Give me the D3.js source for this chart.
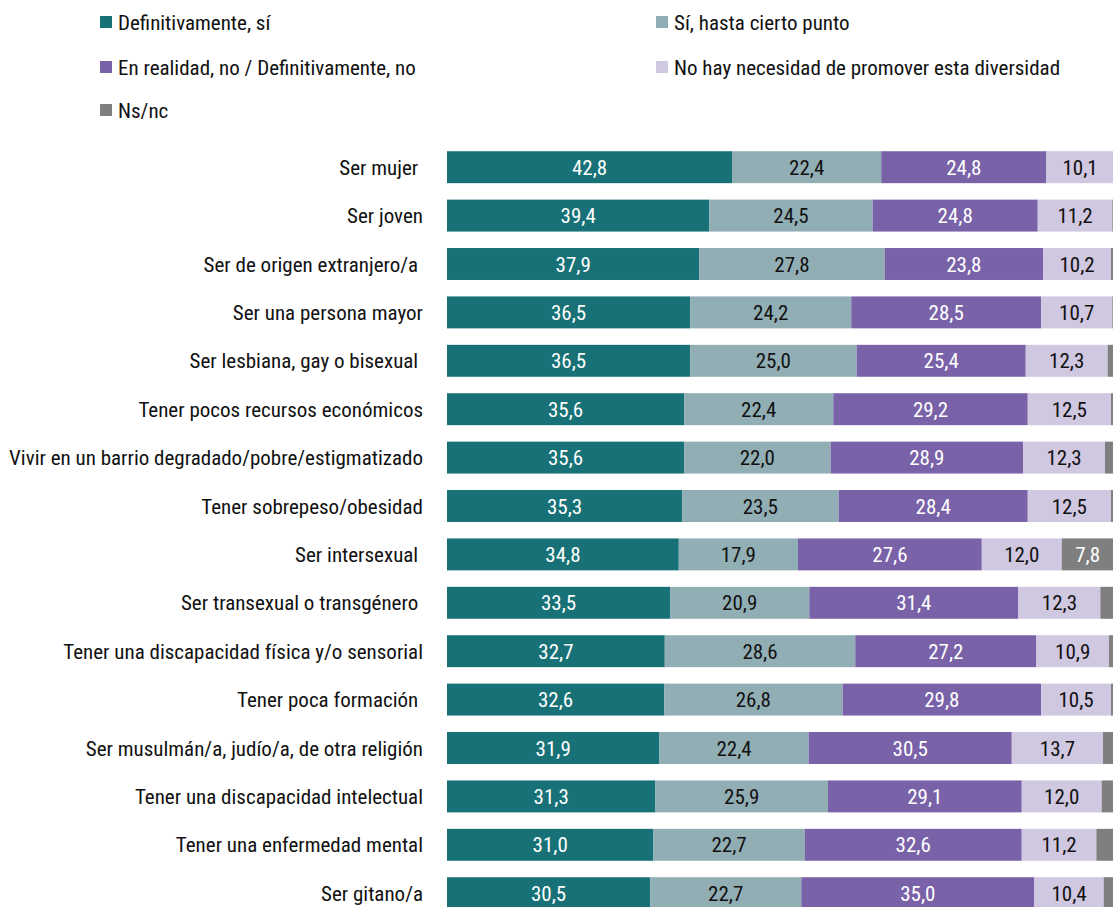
<!DOCTYPE html>
<html>
<head>
<meta charset="utf-8">
<title>Diversidad</title>
<script src="https://cdn.jsdelivr.net/npm/d3@7"></script>
<style>
  body { margin: 0; background: #fff; }
  svg text { font-family: "Liberation Sans Narrow", "Arial Narrow", "Roboto Condensed", sans-serif; white-space: pre; }
</style>
</head>
<body>
<div id="chart"></div>
<script>
// categories (top to bottom)
var categories = [
  "Ser mujer ",
  "Ser joven",
  "Ser de origen extranjero/a ",
  "Ser una persona mayor",
  "Ser lesbiana, gay o bisexual ",
  "Tener pocos recursos económicos",
  "Vivir en un barrio degradado/pobre/estigmatizado",
  "Tener sobrepeso/obesidad",
  "Ser intersexual ",
  "Ser transexual o transgénero ",
  "Tener una discapacidad física y/o sensorial",
  "Tener poca formación ",
  "Ser musulmán/a, judío/a, de otra religión",
  "Tener una discapacidad intelectual",
  "Tener una enfermedad mental",
  "Ser gitano/a"
];

var seriesNames = [
  "Definitivamente, sí",
  "Sí, hasta cierto punto",
  "En realidad, no / Definitivamente, no",
  "No hay necesidad de promover esta diversidad",
  "Ns/nc"
];

var defSi    = [42.8, 39.4, 37.9, 36.5, 36.5, 35.6, 35.6, 35.3, 34.8, 33.5, 32.7, 32.6, 31.9, 31.3, 31.0, 30.5];
var hastaSi  = [22.4, 24.5, 27.8, 24.2, 25.0, 22.4, 22.0, 23.5, 17.9, 20.9, 28.6, 26.8, 22.4, 25.9, 22.7, 22.7];
var realNo   = [24.8, 24.8, 23.8, 28.5, 25.4, 29.2, 28.9, 28.4, 27.6, 31.4, 27.2, 29.8, 30.5, 29.1, 32.6, 35.0];
var noNecesi = [10.1, 11.2, 10.2, 10.7, 12.3, 12.5, 12.3, 12.5, 12.0, 12.3, 10.9, 10.5, 13.7, 12.0, 11.2, 10.4];
var nsnc     = [0.0, 0.1, 0.3, 0.1, 0.8, 0.3, 1.2, 0.3, 7.8, 1.9, 0.6, 0.3, 1.5, 1.7, 2.5, 1.4];

var colors = ["#177176", "#91aeb5", "#7a62a8", "#d0c7e1", "#7f7f7f"];
var textColors = ["#fff", "#111", "#fff", "#111", "#fff"];

var W = 1113, H = 907;
var svg = d3.select("#chart").append("svg")
  .attr("width", W).attr("height", H);

var keys = ["k0", "k1", "k2", "k3", "k4"];
var allSeries = [defSi, hastaSi, realNo, noNecesi, nsnc];
var table = categories.map(function(c, i) {
  var row = { cat: c };
  keys.forEach(function(k, j) { row[k] = allSeries[j][i]; });
  return row;
});

var x = d3.scaleLinear().domain([0, 100]).range([447, 1113]);
var y = d3.scaleBand().domain(categories).range([143, 143 + 16 * 48.4]).paddingInner(0.34).paddingOuter(0.17);

var stacked = d3.stack().keys(keys)(table);

var groups = svg.selectAll("g.serie")
  .data(stacked).enter().append("g")
  .attr("class", "serie")
  .attr("fill", function(d, i) { return colors[i]; });

groups.selectAll("rect")
  .data(function(d) { return d; })
  .enter().append("rect")
  .attr("x", function(d) { return x(d[0]); })
  .attr("y", function(d) { return y(d.data.cat); })
  .attr("width", function(d) { return Math.max(0, x(d[1]) - x(d[0])); })
  .attr("height", y.bandwidth());

stacked.forEach(function(s, i) {
  svg.append("g").selectAll("text")
    .data(s.filter(function(d) { return d[1] - d[0] >= 5; }))
    .enter().append("text")
    .attr("x", function(d) { return (x(d[0]) + x(d[1])) / 2; })
    .attr("y", function(d) { return y(d.data.cat) + y.bandwidth() / 2; })
    .attr("dy", "0.36em")
    .attr("text-anchor", "middle")
    .attr("font-size", 21)
    .attr("fill", textColors[i])
    .text(function(d) { return (d[1] - d[0]).toFixed(1).replace(".", ","); });
});

// category labels
svg.append("g").selectAll("text")
  .data(categories).enter().append("text")
  .attr("x", 423)
  .attr("y", function(d) { return y(d) + y.bandwidth() / 2; })
  .attr("dy", "0.36em")
  .attr("text-anchor", "end")
  .attr("font-size", 21)
  .attr("fill", "#111")
  .text(function(d) { return d; });

// legend
var legendPos = [[100, 22], [656, 22], [100, 67], [656, 67], [100, 110]];
var leg = svg.append("g").selectAll("g")
  .data(seriesNames).enter().append("g")
  .attr("transform", function(d, i) { return "translate(" + legendPos[i][0] + "," + legendPos[i][1] + ")"; });
leg.append("rect")
  .attr("x", 0).attr("y", -6).attr("width", 12).attr("height", 12)
  .attr("fill", function(d, i) { return colors[i]; });
leg.append("text")
  .attr("x", 18).attr("dy", "0.36em")
  .attr("font-size", 21)
  .attr("fill", "#111")
  .text(function(d) { return d; });
</script>
</body>
</html>
